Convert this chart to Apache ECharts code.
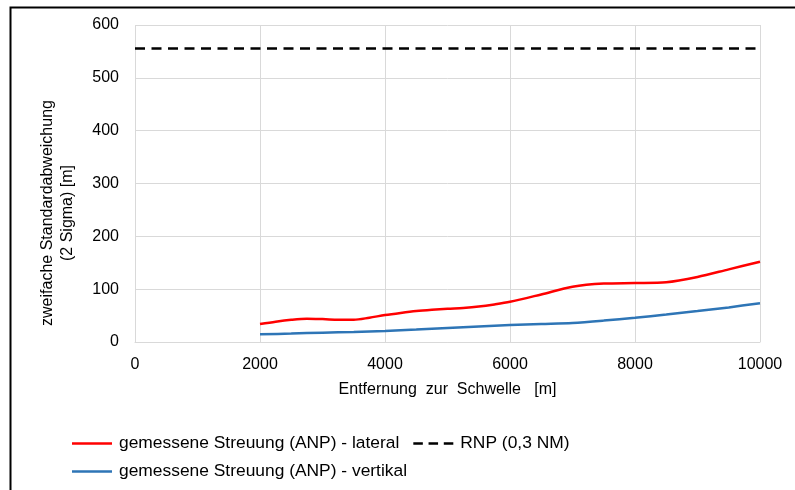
<!DOCTYPE html>
<html><head><meta charset="utf-8">
<script src="https://cdn.jsdelivr.net/npm/echarts@6/dist/echarts.min.js"></script>
<style>html,body{margin:0;padding:0;background:#fff}#c{width:795px;height:490px}</style>
</head><body><div id="c"></div>
<script>
const lateralX = [2000, 2250, 2500, 2750, 3000, 3250, 3500, 3750, 4000, 4250, 4500, 4750, 5000, 5250, 5500, 5750, 6000, 6500, 7000, 7500, 8000, 8500, 9000, 9500, 10000];
const lateralY = [34, 38.5, 42, 44, 43.3, 42.2, 42, 46, 51, 55, 58.5, 61, 63, 64.5, 67, 71, 76, 90, 104.5, 110.5, 111.5, 113, 123, 137.5, 152];
const vertikalX = [2000, 2500, 3000, 3500, 4000, 4500, 5000, 5500, 6000, 6500, 7000, 7500, 8000, 8500, 9000, 9500, 10000];
const vertikalY = [14.5, 16, 17.7, 19, 20.8, 23.5, 26.5, 29.5, 32, 34, 36, 40.5, 46, 52, 58.5, 65.5, 73.5];
const rnpX = [0, 10000];
const rnpY = [555.6, 555.6];
const xTicks = [0, 2000, 4000, 6000, 8000, 10000];
const yTicks = [0, 100, 200, 300, 400, 500, 600];
const names = {
  lateral: 'gemessene Streuung (ANP) - lateral',
  vertikal: 'gemessene Streuung (ANP) - vertikal',
  rnp: 'RNP (0,3 NM)'
};
const pairs = (xs, ys) => xs.map((x, i) => [x, ys[i]]);
const font = 'Liberation Sans, Arial, sans-serif';
const solidIcon = 'path://M0,0h40v2.5h-40z';
const dashIcon = 'path://M0,0h10v2.5h-10zM16,0h10v2.5h-10zM32,0h10v2.5h-10z';
const chart = echarts.init(document.getElementById('c'), null, {renderer: 'canvas'});
chart.setOption({
  animation: false,
  backgroundColor: '#fff',
  textStyle: {fontFamily: font},
  grid: {left: 135, right: 35, top: 25, bottom: 148, containLabel: false},
  xAxis: {
    type: 'value', min: xTicks[0], max: xTicks[xTicks.length - 1], interval: 2000,
    name: 'Entfernung  zur  Schwelle   [m]', nameLocation: 'middle', nameGap: 40,
    nameTextStyle: {fontSize: 16, color: '#000', fontFamily: font},
    axisLine: {show: true, lineStyle: {color: '#d9d9d9', width: 1}},
    axisTick: {show: false},
    axisLabel: {fontSize: 16, color: '#000', margin: 15, fontFamily: font, formatter: v => String(v)},
    splitLine: {show: true, lineStyle: {color: '#d9d9d9', width: 1}}
  },
  yAxis: {
    type: 'value', min: yTicks[0], max: yTicks[yTicks.length - 1], interval: 100,
    axisLine: {show: false},
    axisTick: {show: false},
    axisLabel: {fontSize: 16, color: '#000', margin: 16, fontFamily: font, formatter: v => String(v)},
    splitLine: {show: true, lineStyle: {color: '#d9d9d9', width: 1}}
  },
  legend: [
    {
      data: [{name: names.lateral, icon: solidIcon}, {name: names.rnp, icon: dashIcon}],
      left: 72, top: 435, padding: 0, itemWidth: 40, itemHeight: 2.5, itemGap: 14,
      textStyle: {fontSize: 17.4, color: '#000', fontFamily: font, padding: [0, 0, 0, 2]}
    },
    {
      data: [{name: names.vertikal, icon: solidIcon}],
      left: 72, top: 463, padding: 0, itemWidth: 40, itemHeight: 2.5,
      textStyle: {fontSize: 17.4, color: '#000', fontFamily: font, padding: [0, 0, 0, 2]}
    }
  ],
  graphic: [
    {type: 'rect', left: 8, top: 5, silent: true, z: 100,
     shape: {x: 0, y: 0, width: 820, height: 520},
     style: {fill: 'none', stroke: '#000', lineWidth: 2}},
    {type: 'text', x: 58, y: 213, rotation: Math.PI / 2, silent: true,
     style: {text: 'zweifache Standardabweichung\n(2 Sigma) [m]', fontSize: 16, fontFamily: font,
             fill: '#000', align: 'center', verticalAlign: 'middle', lineHeight: 20}}
  ],
  series: [
    {name: names.lateral, type: 'line', data: pairs(lateralX, lateralY), smooth: 0.3, symbol: 'none',
     lineStyle: {color: '#ff0000', width: 2.5}, itemStyle: {color: '#ff0000'}, z: 3},
    {name: names.vertikal, type: 'line', data: pairs(vertikalX, vertikalY), smooth: 0.3, symbol: 'none',
     lineStyle: {color: '#2e75b6', width: 2.5}, itemStyle: {color: '#2e75b6'}, z: 2},
    {name: names.rnp, type: 'line', data: pairs(rnpX, rnpY), symbol: 'none',
     lineStyle: {color: '#000', width: 2.5, type: [10, 6.5]}, itemStyle: {color: '#000'}, z: 2}
  ]
});
</script></body></html>
